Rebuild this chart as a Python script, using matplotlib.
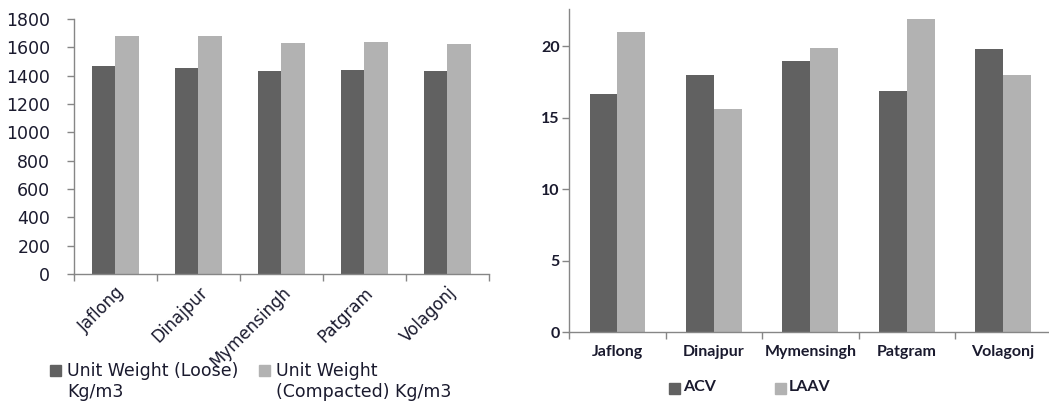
import numpy as np
import matplotlib
matplotlib.use("Agg")
import matplotlib.pyplot as plt
from matplotlib.patches import Rectangle

sites = ["Jaflong", "Dinajpur", "Mymensingh", "Patgram", "Volagonj"]
unit_wt_loose = [1466, 1456, 1431, 1438, 1431]
unit_wt_compacted = [1678, 1678, 1631, 1640, 1621]
acv = [16.7, 18.0, 19.0, 16.9, 19.8]
laav = [21.0, 15.6, 19.9, 21.9, 18.0]
uw_labels = ["Unit Weight (Loose)\nKg/m3", "Unit Weight\n(Compacted) Kg/m3"]
av_labels = ["ACV", "LAAV"]

DARK = "#616161"
LIGHT = "#b2b2b2"
AXIS = "#868686"
TXT = "#1a1a2e"

W, H = 1049, 401
fig = plt.figure(figsize=(W / 100, H / 100), dpi=100)


def style_axes(ax, n):
    for s in ("top", "right"):
        ax.spines[s].set_visible(False)
    for s in ("left", "bottom"):
        ax.spines[s].set_color(AXIS)
        ax.spines[s].set_linewidth(1.0)
    ax.set_xlim(-0.5, n - 0.5)
    # category boundaries get the tick marks, centres get the labels
    ax.set_xticks(np.arange(n + 1) - 0.5, minor=True)
    ax.set_xticks(np.arange(n))
    ax.tick_params(axis="x", which="minor", length=5, color=AXIS, width=1.0)
    ax.tick_params(axis="x", which="major", length=0)
    ax.tick_params(axis="y", length=5, color=AXIS, width=1.0, labelcolor=TXT)


def key(px, py, color, label, tx, **font):
    # legend entry in pixel coords (top-left origin): square + text
    fig.patches.append(Rectangle((px / W, 1 - (py + 11) / H), 11 / W, 11 / H,
                                 transform=fig.transFigure, color=color))
    fig.text(tx / W, 1 - (py - 3) / H, label, va="top", ha="left",
             color=TXT, linespacing=1.2, **font)


# left: unit weight
ax1 = fig.add_axes([0.0705, 0.3167, 0.3956, 0.636])
x = np.arange(len(sites))
w = 0.28
ax1.bar(x - w / 2, unit_wt_loose, w, color=DARK)
ax1.bar(x + w / 2, unit_wt_compacted, w, color=LIGHT)
style_axes(ax1, len(sites))
ax1.set_ylim(0, 1800)
ax1.set_yticks(np.arange(0, 1801, 200))
ax1.set_xticklabels(sites, rotation=45, ha="right", rotation_mode="anchor",
                    fontsize=12, color=TXT, family="DejaVu Sans")
ax1.tick_params(axis="x", which="major", pad=7)
ax1.tick_params(axis="y", pad=12)
for lab in ax1.get_yticklabels():
    lab.set_fontsize(12.5)
    lab.set_family("DejaVu Sans")

uw_font = dict(family="DejaVu Sans", fontsize=12.5)
key(50, 365, DARK, uw_labels[0], 67, **uw_font)
key(259, 365, LIGHT, uw_labels[1], 276, **uw_font)

# right: ACV / LAAV
ax2 = fig.add_axes([0.5427, 0.1713, 0.4595, 0.8055])
w2 = 0.29
ax2.bar(x - w2 / 2, acv, w2, color=DARK)
ax2.bar(x + w2 / 2, laav, w2, color=LIGHT)
style_axes(ax2, len(sites))
ax2.set_ylim(0, 22.6)
ax2.set_yticks([0, 5, 10, 15, 20])
ax2.set_xticklabels(sites, fontsize=11.5, fontweight="bold", color=TXT, family="Lato")
ax2.tick_params(axis="x", which="major", pad=9)
ax2.tick_params(axis="y", pad=2)
for lab in ax2.get_yticklabels():
    lab.set_fontsize(11.5)
    lab.set_fontweight("bold")
    lab.set_family("Lato")

av_font = dict(family="Lato", fontsize=11.5, fontweight="bold")
key(669, 383, DARK, av_labels[0], 683, **av_font)
key(775, 383, LIGHT, av_labels[1], 789, **av_font)

fig.savefig("out.png", dpi=100)
